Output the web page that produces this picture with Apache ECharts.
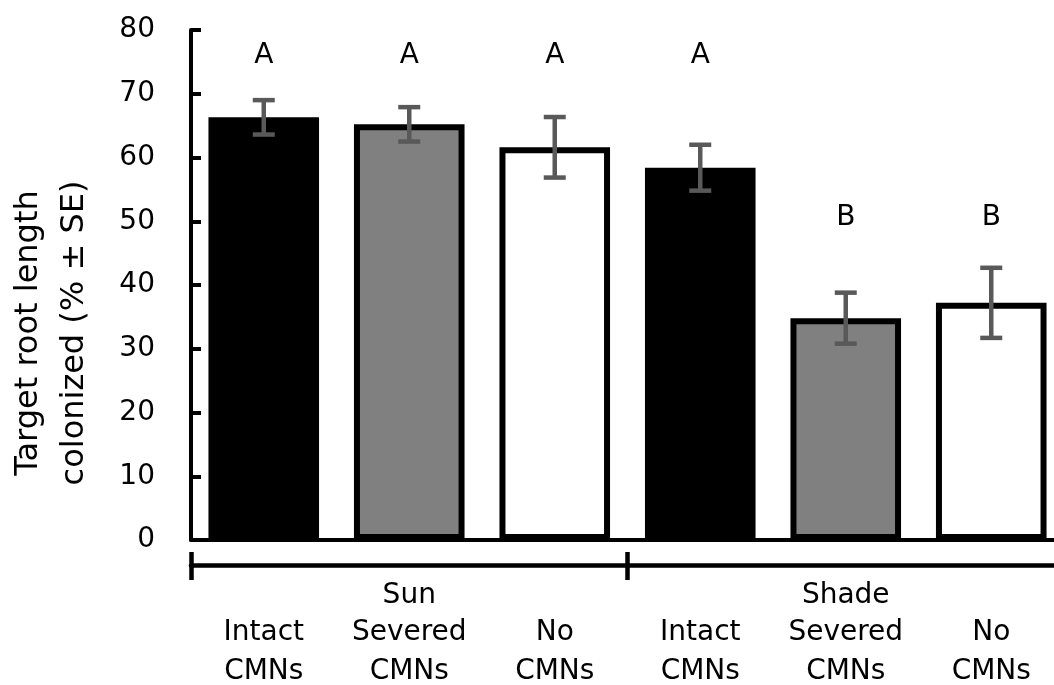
<!DOCTYPE html>
<html><head><meta charset="utf-8">
<script src="https://cdn.jsdelivr.net/npm/echarts@6/dist/echarts.min.js"></script>
<style>html,body{margin:0;padding:0;background:#fff}#c{width:1054px;height:685px}</style>
</head><body><div id="c"></div>
<script>
// ---- data ----
const categories = ['Intact\nCMNs', 'Severed\nCMNs', 'No\nCMNs', 'Intact\nCMNs', 'Severed\nCMNs', 'No\nCMNs'];
const groups = ['Sun', 'Shade'];
const values = [66.3, 65.2, 61.6, 58.4, 34.8, 37.2];
const errors = [2.7, 2.7, 4.75, 3.6, 4.0, 5.5];
const letters = ['A', 'A', 'A', 'A', 'B', 'B'];
const letterLevels = [75.9, 75.9, 75.9, 75.9, 50.6, 50.6];
const yMin = 0, yMax = 80, yStep = 10;
const yTitle = 'Target root length\ncolonized (% \u00b1 SE)';

// ---- styles ----
const fills = ['#000000', '#808080', '#ffffff'];
const FONT = 'DejaVu Sans';

const chart = echarts.init(document.getElementById('c'), null, {renderer: 'canvas'});
const barData = values.map((v, i) => ({
  value: v,
  itemStyle: {color: fills[i % 3], borderColor: '#000', borderWidth: 6}
}));
const errData = values.map((v, i) => [i, v, errors[i]]);
const letterData = letters.map((t, i) => [i, letterLevels[i], t]);

chart.setOption({
  animation: false,
  backgroundColor: '#fff',
  grid: {left: 191, width: 873, top: 30, bottom: 145, containLabel: false, outerBoundsMode: 'none'},
  xAxis: [
    {
      type: 'category', data: categories, position: 'bottom',
      axisLine: {show: true, lineStyle: {color: '#000', width: 4}},
      axisTick: {show: false},
      axisLabel: {fontFamily: FONT, fontSize: 28, color: '#000', lineHeight: 39, margin: 73.5, interval: 0}
    },
    {
      type: 'category', data: groups, position: 'bottom', offset: 25,
      axisLine: {show: true, lineStyle: {color: '#000', width: 4.5}},
      axisTick: {show: true, inside: false, length: 15, lineStyle: {color: '#000', width: 4.5}},
      axisLabel: {fontFamily: FONT, fontSize: 28, color: '#000', lineHeight: 30, margin: 16, interval: 0}
    },
    {
      type: 'category', data: groups, position: 'bottom', offset: 25,
      axisLine: {show: false},
      axisTick: {show: true, inside: true, length: 13, lineStyle: {color: '#000', width: 4.5}},
      axisLabel: {show: false}
    }
  ],
  yAxis: {
    type: 'value', min: yMin, max: yMax, interval: yStep,
    name: yTitle, nameLocation: 'middle', nameGap: 93, nameRotate: 90,
    nameTextStyle: {fontFamily: FONT, fontSize: 32, color: '#000', lineHeight: 46, padding: [0, 96, 0, 0]},
    axisLine: {show: true, lineStyle: {color: '#000', width: 4}},
    axisTick: {show: true, inside: true, length: 10, lineStyle: {color: '#000', width: 4}},
    splitLine: {show: false},
    axisLabel: {fontFamily: FONT, fontSize: 28, color: '#000', margin: 36}
  },
  series: [
    {
      type: 'bar', xAxisIndex: 0, yAxisIndex: 0, data: barData,
      barWidth: '76%'
    },
    {
      type: 'custom', xAxisIndex: 0, yAxisIndex: 0, data: errData, z: 5,
      encode: {x: 0, y: 1},
      renderItem: function (params, api) {
        const i = api.value(0), v = api.value(1), e = api.value(2);
        const top = api.coord([i, v + e]);
        const bot = api.coord([i, v - e]);
        const hw = 11;
        const st = {stroke: '#595959', lineWidth: 4.5};
        return {type: 'group', children: [
          {type: 'line', shape: {x1: top[0], y1: top[1], x2: bot[0], y2: bot[1]}, style: st},
          {type: 'line', shape: {x1: top[0] - hw, y1: top[1], x2: top[0] + hw, y2: top[1]}, style: st},
          {type: 'line', shape: {x1: bot[0] - hw, y1: bot[1], x2: bot[0] + hw, y2: bot[1]}, style: st}
        ]};
      }
    },
    {
      type: 'custom', xAxisIndex: 0, yAxisIndex: 0, data: letterData, z: 6,
      encode: {x: 0, y: 1},
      renderItem: function (params, api) {
        const p = api.coord([api.value(0), api.value(1)]);
        return {type: 'text', x: p[0], y: p[1], style: {
          text: letters[params.dataIndex], font: '28px "' + FONT + '"', fill: '#000',
          align: 'center', verticalAlign: 'middle'
        }};
      }
    }
  ]
});
</script></body></html>
